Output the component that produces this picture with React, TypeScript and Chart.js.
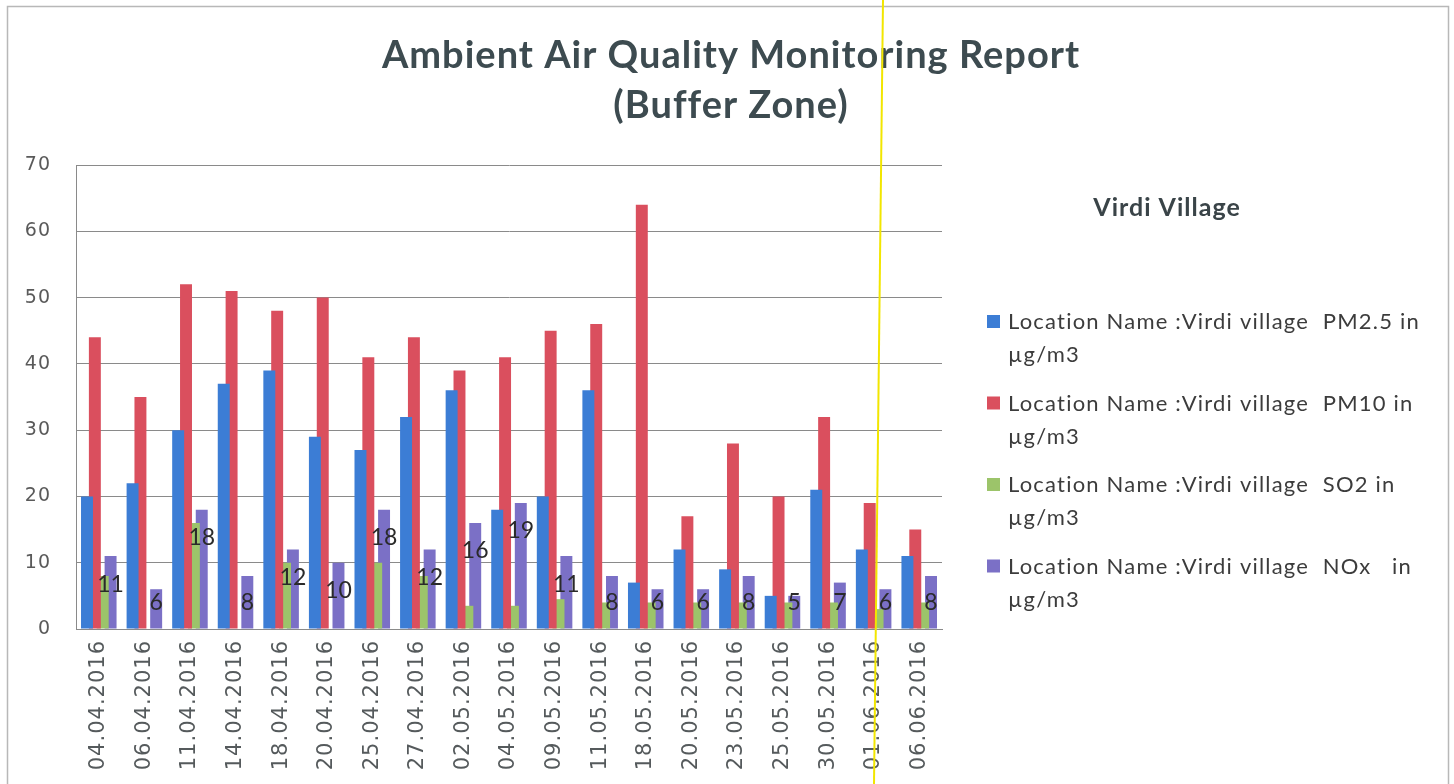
import { useEffect, useRef } from "react";
import Chart from "chart.js/auto";

const categories = [
  "04.04.2016", "06.04.2016", "11.04.2016", "14.04.2016", "18.04.2016",
  "20.04.2016", "25.04.2016", "27.04.2016", "02.05.2016", "04.05.2016",
  "09.05.2016", "11.05.2016", "18.05.2016", "20.05.2016", "23.05.2016",
  "25.05.2016", "30.05.2016", "01.06.2016", "06.06.2016",
];
const pm25 = [20, 22, 30, 37, 39, 29, 27, 32, 36, 18, 20, 36, 7, 12, 9, 5, 21, 12, 11];
const pm10 = [44, 35, 52, 51, 48, 50, 41, 44, 39, 41, 45, 46, 64, 17, 28, 20, 32, 19, 15];
const so2 = [8, 0, 16, 0, 10, 0, 10, 8, 3.5, 3.5, 4.5, 4, 4, 4, 4, 4, 4, 3, 4];
const nox = [11, 6, 18, 8, 12, 10, 18, 12, 16, 19, 11, 8, 6, 6, 8, 5, 7, 6, 8];
const noxLabels = ["11", "6", "18", "8", "12", "10", "18", "12", "16", "19", "11", "8", "6", "6", "8", "5", "7", "6", "8"];

const seriesNames = [
  "Location Name :Virdi village  PM2.5 in µg/m3",
  "Location Name :Virdi village  PM10 in µg/m3",
  "Location Name :Virdi village  SO2 in µg/m3",
  "Location Name :Virdi village  NOx   in µg/m3",
];
const legendLines = [
  ["Location Name :Virdi village  PM2.5 in", "µg/m3"],
  ["Location Name :Virdi village  PM10 in", "µg/m3"],
  ["Location Name :Virdi village  SO2 in", "µg/m3"],
  ["Location Name :Virdi village  NOx   in", "µg/m3"],
];
const colors = ["#3c7dd5", "#da4f5e", "#9cc46a", "#7b70c6"];
const titleLines = ["Ambient Air Quality Monitoring Report", "(Buffer Zone)"];
const legendTitle = "Virdi Village";
const yMin = 0;
const yMax = 70;
const yStep = 10;

const decorPlugin = {
  id: "decor",
  beforeDraw(chart: any) {
    (chart.ctx as any).letterSpacing = "1px";
  },
  afterDraw(chart: any) {
    const ctx = chart.ctx as any;
    ctx.save();
    ctx.letterSpacing = "0px";
    // outer frame
    ctx.strokeStyle = "#b8b8b8";
    ctx.lineWidth = 1.5;
    ctx.strokeRect(7.5, 6.5, 1441, 800);

    // data labels on NOx bars
    const meta = chart.getDatasetMeta(3);
    const base = chart.scales.y.getPixelForValue(0);
    ctx.font = "23px Lato";
    ctx.fillStyle = "#2a2a2a";
    ctx.textAlign = "center";
    ctx.textBaseline = "middle";
    meta.data.forEach((bar: any, i: number) => {
      const y = Math.min(bar.y + 28, base - 26);
      ctx.fillText(noxLabels[i], bar.x, y);
    });

    // title
    ctx.letterSpacing = "1px";
    ctx.font = "bold 38px Lato";
    ctx.fillStyle = "#3d4b50";
    titleLines.forEach((t, i) => ctx.fillText(t, 731, 56 + i * 50));

    // legend
    ctx.font = "bold 25px Lato";
    ctx.fillStyle = "#3a4448";
    ctx.fillText(legendTitle, 1167, 208);
    ctx.textAlign = "left";
    ctx.letterSpacing = "1.2px";
    ctx.font = "22px Lato";
    legendLines.forEach((lines, i) => {
      const y0 = 322 + i * 81.5;
      ctx.fillStyle = colors[i];
      ctx.fillRect(987, y0 - 7, 13, 13);
      ctx.fillStyle = "#3c3c3c";
      lines.forEach((ln, j) => ctx.fillText(ln, 1008, y0 + j * 33));
    });

    // yellow scan line
    ctx.strokeStyle = "#f2e600";
    ctx.lineWidth = 2;
    ctx.beginPath();
    ctx.moveTo(883, 0);
    ctx.lineTo(874, 784);
    ctx.stroke();
    ctx.restore();
  },
};

export default function App() {
  const ref = useRef<HTMLCanvasElement>(null);
  useEffect(() => {
    document.body.style.margin = "0";
    document.body.style.background = "#ffffff";
    const datasets = [pm25, pm10, so2, nox].map((d, i) => ({
      label: seriesNames[i],
      data: d,
      backgroundColor: colors[i],
      borderWidth: 0,
      categoryPercentage: 0.69,
      barPercentage: 1.52,
    }));
    const chart = new Chart(ref.current as HTMLCanvasElement, {
      type: "bar",
      data: { labels: categories, datasets },
      options: {
        animation: false,
        responsive: false,
        devicePixelRatio: 1,
        layout: { padding: { top: 165, right: 512, bottom: 0, left: 8 } },
        plugins: {
          legend: { display: false },
          title: { display: false },
          tooltip: { enabled: false },
        },
        scales: {
          x: {
            afterFit: (s: any) => { s.height = 155; },
            grid: { display: false, drawTicks: false },
            border: { display: true, color: "#8a8a8a", width: 1 },
            ticks: {
              minRotation: 90,
              maxRotation: 90,
              padding: 11,
              color: "#555a5c",
              font: { family: "DejaVu Sans", size: 21 },
              autoSkip: false,
            },
          },
          y: {
            min: yMin,
            max: yMax,
            afterFit: (s: any) => { s.width = 68; },
            grid: { color: "#8a8a8a", lineWidth: 1, drawTicks: false },
            border: { display: true, color: "#8a8a8a", width: 1 },
            ticks: {
              stepSize: yStep,
              padding: 25,
              color: "#5a5a5a",
              font: { family: "DejaVu Sans", size: 19 },
            },
          },
        },
      },
      plugins: [decorPlugin],
    });
    return () => chart.destroy();
  }, []);
  return (
    <div style={{ width: 1454, height: 784 }}>
      <canvas ref={ref} width={1454} height={784} />
    </div>
  );
}
